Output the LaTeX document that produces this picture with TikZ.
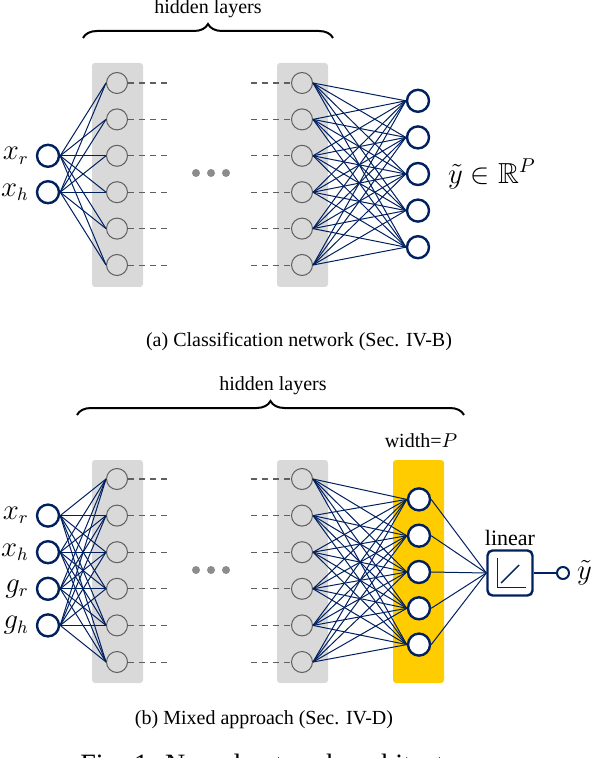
\documentclass[tikz,border=0pt]{standalone}
\usepackage{amsmath,amssymb}
\usepackage{fontspec}
\setmainfont{Liberation Serif}
\usetikzlibrary{decorations.pathreplacing}

\definecolor{netblue}{RGB}{0,32,96}
\definecolor{layergray}{RGB}{217,217,217}
\definecolor{layeryellow}{RGB}{255,204,0}
\definecolor{neurongray}{RGB}{95,95,95}
\definecolor{dotgray}{RGB}{140,140,140}

\begin{document}
\begin{tikzpicture}[x=0.5pt, y=-0.5pt,
    neuron/.style={circle, draw=neurongray, line width=0.5pt, minimum size=10.5pt, inner sep=0pt},
    io/.style={circle, draw=netblue, line width=1.2pt, minimum size=11pt, inner sep=0pt, fill=white},
    edge/.style={netblue, line width=0.5pt},
    skip/.style={neurongray, dash pattern=on 3pt off 2.5pt},
    bar/.style={rounded corners=1.5pt},
    brace/.style={decorate, decoration={brace, amplitude=7pt}, line width=1pt},
    lbl/.style={font=\fontsize{13.5}{15}\selectfont},
    linbox/.style={draw=netblue, line width=1.2pt, rounded corners=2.5pt, minimum size=22.5pt, inner sep=0pt, fill=white}]

  \useasboundingbox (0,0) rectangle (594,758);

  % (a) classification network
  \fill[layergray, bar] (92,63) rectangle (143,287);
  \fill[layergray, bar] (277,63) rectangle (328,287);
  \draw[brace] (83,38) -- (333,38);
  \node (ahid) at (208,9) {hidden layers};
  \foreach \i in {1,...,6} {
    \node[neuron] (a1-\i) at (117, 46.6+36.4*\i) {};
    \node[neuron] (a2-\i) at (302, 46.6+36.4*\i) {};
    \coordinate (ag1-\i) at (168, 46.6+36.4*\i);
    \coordinate (ag2-\i) at (251, 46.6+36.4*\i);
  }
  \foreach \i/\w in {1/0.9,2/0.45,3/0.45,4/0.45,5/0.9,6/0.45} {
    \draw[skip, line width=\w pt] (a1-\i.east) -- (ag1-\i);
    \draw[skip, line width=\w pt] (ag2-\i) -- (a2-\i.west);
  }
  \foreach \x [count=\k] in {196,211,226}
    \node[circle, fill=dotgray, minimum size=4pt, inner sep=0pt] (adot\k) at (\x,173) {};
  \node[io, label distance=1.5pt, label={[lbl]left:$x_r$}] (axr) at (48,155.8) {};
  \node[io, label distance=1.5pt, label={[lbl]left:$x_h$}] (axh) at (48,192.2) {};
  \foreach \j in {1,...,5}
    \node[io] (ao\j) at (418, 174+36.6*\j-109.8) {};
  \foreach \i in {1,...,6} {
    \draw[edge] (axr.east) -- (a1-\i.west);
    \draw[edge] (axh.east) -- (a1-\i.west);
    \foreach \j in {1,...,5}
      \draw[edge] (a2-\i.east) -- (ao\j.west);
  }
  \node[lbl, anchor=west, font=\fontsize{14.5}{16}\selectfont] (aout) at (441,174) {$\tilde{y} \in \mathbb{R}^P$};
  \node (acap) at (299,342) {(a) Classification network (Sec. IV-B)};

  % (b) mixed approach
  \fill[layergray, bar] (92,460) rectangle (143,683);
  \fill[layergray, bar] (277,460) rectangle (328,683);
  \fill[layeryellow, bar] (393,460) rectangle (444,683);
  \draw[brace] (77,415) -- (464,415);
  \node (bhid) at (273,386) {hidden layers};
  \node (bwid) at (421,441) {width=$P$};
  \foreach \i in {1,...,6} {
    \node[neuron] (b1-\i) at (117, 442.4+36.6*\i) {};
    \node[neuron] (b2-\i) at (302, 442.4+36.6*\i) {};
    \coordinate (bg1-\i) at (168, 442.4+36.6*\i);
    \coordinate (bg2-\i) at (251, 442.4+36.6*\i);
  }
  \foreach \i/\w in {1/0.9,2/0.45,3/0.45,4/0.45,5/0.9,6/0.45} {
    \draw[skip, line width=\w pt] (b1-\i.east) -- (bg1-\i);
    \draw[skip, line width=\w pt] (bg2-\i) -- (b2-\i.west);
  }
  \foreach \x [count=\k] in {196,211,226}
    \node[circle, fill=dotgray, minimum size=4pt, inner sep=0pt] (bdot\k) at (\x,570) {};
  \foreach \n/\t [count=\k] in {xr/x_r,xh/x_h,gr/g_r,gh/g_h}
    \node[io, label distance=1.5pt, label={[lbl]left:$\t$}] (b\n) at (48, 479+36.6*\k) {};
  \foreach \j in {1,...,5}
    \node[io] (bp\j) at (419, 572+36.3*\j-108.9) {};
  \node[linbox, label={[inner sep=1.5pt, font=\fontsize{11}{13}\selectfont]above:linear}] (lin) at (510,573) {};
  \draw[netblue, line width=0.5pt, shift={(lin.center)}] (-13,-15) -- (-13,14) -- (16,14);
  \draw[netblue, line width=0.7pt, shift={(lin.center)}] (-9,10) -- (9,-8);
  \node[io, minimum size=6pt, line width=1pt, label distance=1pt, label={[lbl]right:$\tilde{y}$}] (bout) at (563,573) {};
  \foreach \i in {1,...,6} {
    \foreach \n in {xr,xh,gr,gh}
      \draw[edge] (b\n.east) -- (b1-\i.west);
    \foreach \j in {1,...,5}
      \draw[edge] (b2-\i.east) -- (bp\j.west);
  }
  \foreach \j in {1,...,5}
    \draw[edge] (bp\j.east) -- (lin.west);
  \draw[netblue, line width=1pt] (lin.east) -- (bout.west);
  \node (bcap) at (264,720) {(b) Mixed approach (Sec. IV-D)};
  \node[anchor=base west, inner sep=0pt, font=\fontsize{14}{16}\selectfont] (fig) at (80,773) {Fig. 1: Neural network architecture.};
\end{tikzpicture}
\end{document}
